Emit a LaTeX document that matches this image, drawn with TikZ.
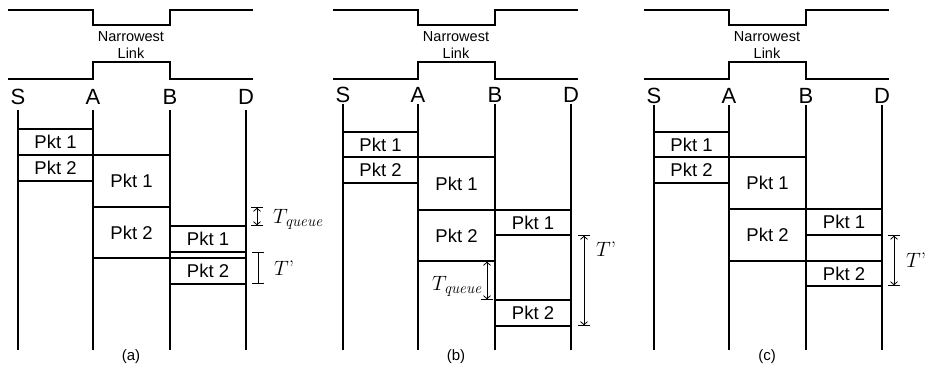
\documentclass[tikz,border=0pt]{standalone}
\usepackage{fontspec}
\setsansfont{Liberation Sans}
\usetikzlibrary{arrows.meta}
\tikzset{
  wire/.style={line width=1.2pt},
  life/.style={line width=1.2pt},
  pkt/.style={draw, line width=1.2pt, inner sep=0pt, font=\sffamily\fontsize{18.5}{18.5}\selectfont},
  hostlbl/.style={font=\sffamily\fontsize{22}{22}\selectfont, inner sep=0pt},
  linklbl/.style={font=\sffamily\fontsize{14.5}{15}\selectfont, align=center, inner sep=0pt},
  panellbl/.style={font=\sffamily\fontsize{15}{15}\selectfont, inner sep=0pt},
  measarrow/.style={line width=0.8pt, {Bar[width=12pt]Straight Barb[length=3pt,width=7pt]}-{Straight Barb[length=3pt,width=7pt]Bar[width=12pt]}},
  measbar/.style={line width=0.8pt, {Bar[width=12pt]}-{Bar[width=12pt]}},
  tlbl/.style={font=\fontsize{21}{21}\selectfont, inner sep=0pt}
}
\newcommand\tq{$T_{\mbox{\fontsize{15.5}{15.5}\selectfont\itshape queue}}$}
\newcommand\tp{$T$’}
% name, x1, y1, x2, y2, text
\newcommand\pktbox[6]{%
  \node[pkt, minimum width={(#4-#2)*1pt}, minimum height={(#5-#3)*1pt}]
    (#1) at ({(#2+#4)/2},{(#3+#5)/2}) {#6};}
% #1 prefix, #2 lifeline top, #3 caption, #4 label y
\newcommand\mypanelbase[4]{%
  \draw[wire] (8,10) -- (93,10) -- (93,25) -- (170,25) -- (170,10) -- (253,10);
  \draw[wire] (8,79) -- (93,79) -- (93,62) -- (170,62) -- (170,79) -- (253,79);
  \node[linklbl] (#1link) at (131,45) {Narrowest\\[1.5pt]Link};
  \node[hostlbl] (#1S) at (18,#4) {S};
  \node[hostlbl] (#1A) at (93,#4) {A};
  \node[hostlbl] (#1B) at (170,#4) {B};
  \node[hostlbl] (#1D) at (246,#4) {D};
  \coordinate (#1s0) at (18,#2); \coordinate (#1s1) at (18,350);
  \coordinate (#1a0) at (93,#2); \coordinate (#1a1) at (93,350);
  \coordinate (#1b0) at (170,#2); \coordinate (#1b1) at (170,350);
  \coordinate (#1d0) at (246,#2); \coordinate (#1d1) at (246,350);
  \draw[life] (#1s0) -- (#1s1);
  \draw[life] (#1a0) -- (#1a1);
  \draw[life] (#1b0) -- (#1b1);
  \draw[life] (#1d0) -- (#1d1);
  \node[panellbl] (#1cap) at (131,357) {(#3)};
}
\begin{document}
\begin{tikzpicture}[x=1pt,y=-1pt]
\useasboundingbox (0,0) rectangle (928,374);
% ---------- panel (a)
\begin{scope}
  \mypanelbase{a}{110}{a}{97}
  \pktbox{aS1}{18}{129}{93}{155}{Pkt 1}
  \pktbox{aS2}{18}{155}{93}{181}{Pkt 2}
  \pktbox{aA1}{93}{155}{170}{207}{Pkt 1}
  \pktbox{aA2}{93}{207}{170}{258}{Pkt 2}
  \pktbox{aB1}{170}{226}{246}{252}{Pkt 1}
  \pktbox{aB2}{170}{258}{246}{284}{Pkt 2}
  \coordinate (aq0) at (257,207); \coordinate (aq1) at (257,226);
  \draw[measarrow] (aq0) -- (aq1);
  \node[tlbl, anchor=west] (aTq) at (273,219) {\tq};
  \coordinate (ap0) at (258,252); \coordinate (ap1) at (258,284);
  \draw[measbar] (ap0) -- (ap1);
  \node[tlbl, anchor=west] (aTp) at (274,268) {\tp};
\end{scope}
% ---------- panel (b)
\begin{scope}[xshift=325pt]
  \mypanelbase{b}{104}{b}{95}
  \pktbox{bS1}{18}{132}{93}{157}{Pkt 1}
  \pktbox{bS2}{18}{157}{93}{183}{Pkt 2}
  \pktbox{bA1}{93}{157}{170}{210}{Pkt 1}
  \pktbox{bA2}{93}{210}{170}{261}{Pkt 2}
  \pktbox{bB1}{170}{210}{246}{235}{Pkt 1}
  \pktbox{bB2}{170}{300}{246}{326}{Pkt 2}
  \coordinate (bq0) at (162,261); \coordinate (bq1) at (162,300);
  \draw[measarrow] (bq0) -- (bq1);
  \node[tlbl, anchor=east] (bTq) at (157,286) {\tq};
  \coordinate (bp0) at (259,235); \coordinate (bp1) at (259,326);
  \draw[measarrow] (bp0) -- (bp1);
  \node[tlbl, anchor=west] (bTp) at (271,249) {\tp};
\end{scope}
% ---------- panel (c)
\begin{scope}[xshift=636pt]
  \mypanelbase{c}{105}{c}{96}
  \pktbox{cS1}{18}{132}{93}{157}{Pkt 1}
  \pktbox{cS2}{18}{157}{93}{183}{Pkt 2}
  \pktbox{cA1}{93}{157}{170}{209}{Pkt 1}
  \pktbox{cA2}{93}{209}{170}{261}{Pkt 2}
  \pktbox{cB1}{170}{209}{246}{235}{Pkt 1}
  \pktbox{cB2}{170}{261}{246}{286}{Pkt 2}
  \coordinate (cp0) at (258,235); \coordinate (cp1) at (258,286);
  \draw[measarrow] (cp0) -- (cp1);
  \node[tlbl, anchor=west] (cTp) at (270,260) {\tp};
\end{scope}
\end{tikzpicture}
\end{document}
